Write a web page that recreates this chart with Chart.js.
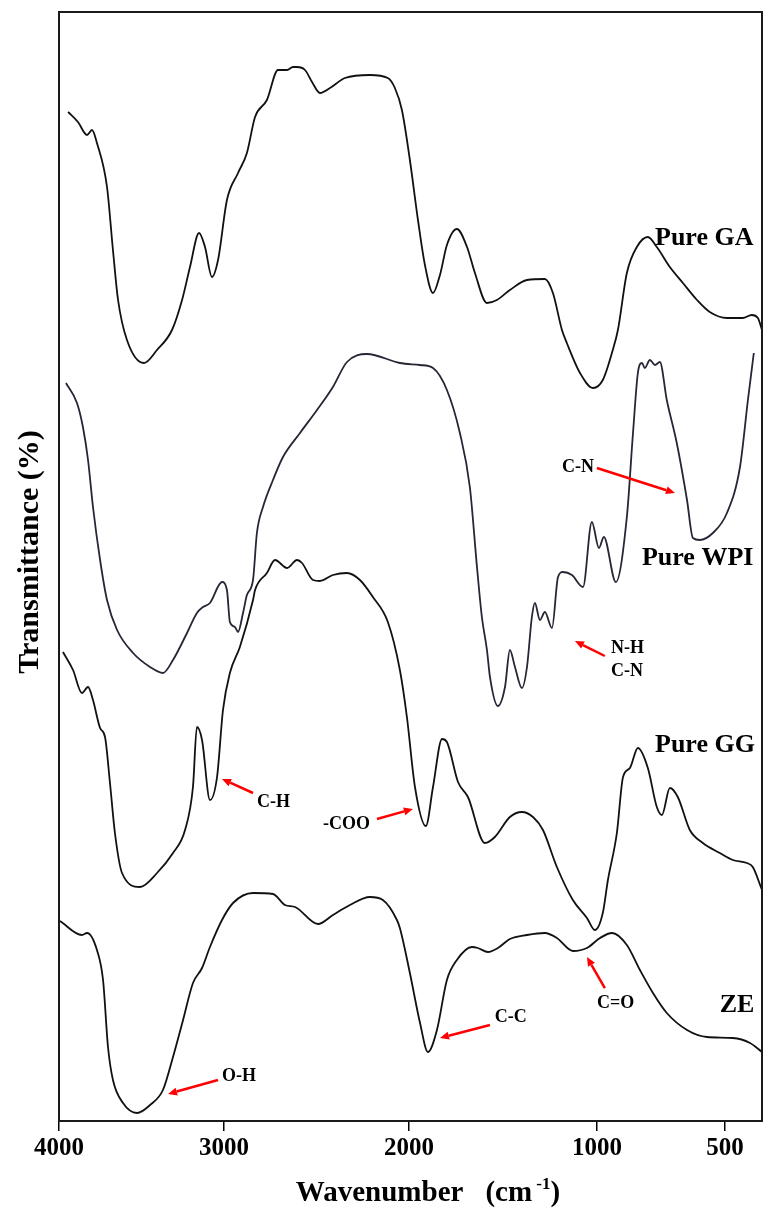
<!DOCTYPE html>
<html><head><meta charset="utf-8">
<script src="https://cdn.jsdelivr.net/npm/chart.js@4.4.1/dist/chart.umd.min.js"></script>
<style>html,body{margin:0;padding:0;background:#fff}canvas{display:block}</style>
</head><body>
<canvas id="c" width="764" height="1209"></canvas>
<script>
// ---- axis definition (spectrometer plot with changing wavenumber scale) ----
const TICK_WAVENUMBERS = [4000, 3000, 2000, 1000, 500];
const TICK_LABELS = ['4000', '3000', '2000', '1000', '500'];
const AXIS_BREAKS = [[4000, 0], [3000, 165], [2000, 350], [1000, 538], [500, 666], [0, 794]];
const X_START = 4000, X_END = 355;

// ---- spectra: [wavenumber (cm-1), transmittance (offset, a.u.)] ----
const GA = [[3945,100.9],[3885,99.9],[3830,98.6],[3800,99.1],[3770,97.8],[3709,93.4],[3673,87.1],[3642,82.1],[3588,78.1],[3485,75.8],[3406,77.1],[3315,79.1],[3254,82.1],[3206,85.4],[3151,88.8],[3115,87.4],[3073,84.4],[3036,86.1],[2984,92.1],[2924,94.8],[2876,96.8],[2832,100.4],[2768,102.1],[2708,105.1],[2659,105.1],[2627,105.4],[2605,105.4],[2562,105.1],[2524,103.9],[2481,102.8],[2427,103.3],[2346,104.3],[2211,104.6],[2114,104.3],[2076,103.3],[2038,101.1],[1995,96.1],[1952,90.1],[1915,85.6],[1872,82.8],[1835,84.6],[1798,87.6],[1745,89.2],[1691,87.4],[1649,84.8],[1585,81.8],[1532,82.1],[1463,83.1],[1372,84.1],[1277,84.2],[1234,82.8],[1186,79.1],[1160,77.8],[1090,74.8],[1021,73.3],[977,74.1],[938,77.1],[918,79.1],[883,84.8],[844,87.4],[801,88.4],[766,87.4],[715,85.4],[664,83.8],[609,82.1],[559,80.9],[492,80.3],[430,80.3],[395,80.6],[371,80.3],[355,79.1]];
const WPI = [[3958,73.8],[3891,71.8],[3855,69.4],[3824,66.1],[3794,61.4],[3751,56.1],[3709,52.1],[3648,49.1],[3551,46.8],[3448,45.4],[3370,44.8],[3309,46.1],[3224,48.8],[3164,50.8],[3127,51.4],[3085,51.8],[3012,53.9],[2984,53.1],[2968,49.9],[2941,49.4],[2924,48.9],[2897,50.8],[2876,52.6],[2843,54.1],[2822,58.8],[2789,61.4],[2735,64.1],[2681,66.4],[2589,68.8],[2497,71.1],[2411,73.4],[2335,75.9],[2227,76.7],[2049,75.8],[1941,75.6],[1872,75.3],[1798,73.1],[1729,68.8],[1676,63.4],[1638,55.4],[1612,50.4],[1585,47.1],[1569,44.4],[1527,41.5],[1489,43.4],[1463,47.1],[1436,45.4],[1399,43.3],[1372,45.4],[1346,50.4],[1330,51.8],[1303,50.1],[1277,50.9],[1239,49.3],[1207,54.4],[1181,54.9],[1133,54.6],[1074,53.4],[1027,59.9],[992,57.3],[973,58.4],[926,53.9],[883,60.4],[859,68.8],[840,74.8],[824,75.8],[813,75.3],[793,76.1],[773,75.6],[754,75.9],[727,72.1],[688,67.8],[648,62.1],[625,58.3],[598,58.1],[547,58.8],[492,60.8],[441,65.4],[410,72.1],[387,76.8]];
const GG = [[3976,46.9],[3915,45.1],[3861,42.8],[3824,43.4],[3794,42.1],[3751,39.3],[3721,38.4],[3691,33.8],[3661,28.8],[3618,24.8],[3509,23.4],[3406,24.8],[3309,26.8],[3236,29.1],[3188,33.4],[3164,39.4],[3133,38.1],[3085,32.1],[3042,34.4],[3006,41.1],[2968,44.8],[2914,47.4],[2843,52.1],[2832,53.1],[2768,54.8],[2724,56.1],[2659,55.3],[2605,56.1],[2578,55.8],[2519,54.1],[2481,54.0],[2411,54.6],[2335,54.8],[2265,54.1],[2195,52.4],[2114,49.9],[2049,45.1],[2011,40.4],[1968,33.4],[1910,29.5],[1872,33.4],[1824,38.2],[1798,37.9],[1739,33.9],[1686,32.4],[1596,27.8],[1543,28.4],[1463,30.4],[1399,30.9],[1340,30.4],[1287,29.1],[1213,25.4],[1128,22.1],[1053,20.3],[1011,19.1],[977,20.8],[957,24.1],[922,28.8],[898,34.4],[871,35.3],[840,37.3],[801,35.3],[766,31.4],[746,30.6],[715,33.3],[684,32.4],[637,29.1],[586,27.8],[520,26.8],[469,26.1],[414,25.8],[391,25.4],[355,23.1]];
const ZE = [[3994,20.0],[3861,18.6],[3830,18.8],[3770,17.1],[3733,14.1],[3703,7.4],[3673,4.1],[3612,1.8],[3527,0.8],[3448,1.6],[3370,3.1],[3309,6.4],[3248,10.1],[3188,13.8],[3133,15.3],[3085,17.4],[3012,20.1],[2951,21.8],[2843,22.8],[2735,22.7],[2670,21.6],[2616,21.4],[2492,19.7],[2411,20.6],[2319,21.6],[2211,22.4],[2141,22.1],[2065,20.1],[2049,19.3],[1995,14.8],[1941,9.8],[1899,6.9],[1851,9.1],[1798,14.1],[1745,16.1],[1665,17.4],[1633,17.3],[1580,16.9],[1527,17.3],[1463,18.2],[1372,18.6],[1277,18.8],[1213,18.3],[1128,17.0],[1053,17.3],[988,18.3],[941,18.8],[883,17.6],[832,15.1],[781,12.8],[727,10.8],[648,9.1],[570,8.4],[469,8.3],[402,7.8],[355,6.9]];

// ---- labels & arrows in data coordinates [wavenumber, transmittance] ----
const SERIES_LABELS = [['Pure GA',773,88.3],['Pure WPI',824,56.3],['Pure GG',773,37.6],['ZE',520,11.6]];
const BAND_LABELS = [['C-N',1186,65.4],['N-H',945,47.3],['C-N',945,45.0],['C-H',2822,31.9],['-COO',2465,29.7],['O-H',3012,4.5],['C-C',1543,10.4],['C=O',1000,11.8]];
const ARROWS = [[1000,65.3,695,62.8],[969,46.5,1117,48.0],[2843,32.8,3012,34.2],[2173,30.2,1979,31.2],[3036,4.1,3339,2.7],[1569,9.6,1835,8.3],[969,13.3,1053,16.4]];

function warp(wn){
  for(let i=0;i<AXIS_BREAKS.length-1;i++){
    const [w0,u0]=AXIS_BREAKS[i],[w1,u1]=AXIS_BREAKS[i+1];
    if(wn<=w0 && wn>=w1) return u0+(w0-wn)*(u1-u0)/(w0-w1);
  }
  return wn>AXIS_BREAKS[0][0]?AXIS_BREAKS[0][1]:AXIS_BREAKS[AXIS_BREAKS.length-1][1];
}
const toPts = arr => arr.map(([w,t])=>({x:warp(w),y:t}));
const SERIF = '"Liberation Serif","Times New Roman",serif';

const mkSet = (label,arr,color)=>({label,data:toPts(arr),borderColor:color,borderWidth:1.8,pointRadius:0,fill:false,cubicInterpolationMode:'monotone'});

const overlay = {
  id:'overlay',
  afterDatasetsDraw(chart){
    const {ctx, chartArea:a, scales:{x,y}} = chart;
    const px = w => x.getPixelForValue(warp(w));
    const py = t => y.getPixelForValue(t);
    ctx.save();
    // frame
    ctx.strokeStyle='#1a1a1a'; ctx.lineWidth=2;
    ctx.strokeRect(a.left, a.top, a.right-a.left, a.bottom-a.top);
    // arrows
    ctx.strokeStyle='#f00'; ctx.fillStyle='#f00'; ctx.lineWidth=2.5;
    ARROWS.forEach(([w0,t0,w1,t1])=>{
      const x0=px(w0),y0=py(t0),x1=px(w1),y1=py(t1);
      const ang=Math.atan2(y1-y0,x1-x0), L=9, W=4;
      const bx=x1-L*Math.cos(ang), by=y1-L*Math.sin(ang);
      ctx.beginPath(); ctx.moveTo(x0,y0); ctx.lineTo(bx,by); ctx.stroke();
      ctx.beginPath(); ctx.moveTo(x1,y1);
      ctx.lineTo(bx+W*Math.sin(ang), by-W*Math.cos(ang));
      ctx.lineTo(bx-W*Math.sin(ang), by+W*Math.cos(ang));
      ctx.closePath(); ctx.fill();
    });
    // labels
    ctx.fillStyle='#000'; ctx.textAlign='left'; ctx.textBaseline='middle';
    ctx.font='bold 26px '+SERIF;
    SERIES_LABELS.forEach(([s,w,t])=>ctx.fillText(s,px(w),py(t)));
    ctx.font='bold 18px '+SERIF;
    BAND_LABELS.forEach(([s,w,t])=>ctx.fillText(s,px(w),py(t)));
    // x title with superscript
    const big='bold 29px '+SERIF, small='bold 17px '+SERIF;
    ctx.textBaseline='alphabetic';
    ctx.font=big; const w1=ctx.measureText('Wavenumber').width, w2=ctx.measureText('(cm').width, w4=ctx.measureText(')').width;
    ctx.font=small; const w3=ctx.measureText(' -1').width;
    const gap=22, total=w1+gap+w2+w3+w4;
    let cx=a.left+369-total/2; const base=a.bottom+80;
    ctx.font=big; ctx.fillText('Wavenumber',cx,base); cx+=w1+gap;
    ctx.fillText('(cm',cx,base); cx+=w2;
    ctx.font=small; ctx.fillText(' -1',cx,base-12); cx+=w3;
    ctx.font=big; ctx.fillText(')',cx,base);
    // y title
    ctx.translate(a.left-21, a.top+540); ctx.rotate(-Math.PI/2);
    ctx.font='bold 30px '+SERIF; ctx.textAlign='center'; ctx.textBaseline='alphabetic';
    ctx.fillText('Transmittance (%)',0,0);
    ctx.restore();
  }
};

new Chart(document.getElementById('c'),{
  type:'line',
  data:{datasets:[
    mkSet('Pure GA',GA,'#111'),
    mkSet('Pure WPI',WPI,'#262635'),
    mkSet('Pure GG',GG,'#111'),
    mkSet('ZE',ZE,'#111')
  ]},
  options:{
    responsive:false, animation:false, devicePixelRatio:1,
    parsing:true,
    layout:{padding:{top:12,right:2,left:0,bottom:0}},
    plugins:{legend:{display:false},tooltip:{enabled:false}},
    scales:{
      x:{type:'linear',min:warp(X_START),max:warp(X_END),
        afterFit(s){s.height=88;},
        afterBuildTicks(s){s.ticks=TICK_WAVENUMBERS.map(w=>({value:warp(w)}));},
        ticks:{autoSkip:false,maxRotation:0,padding:3,color:'#000',
          font:{family:SERIF,size:25,weight:'bold'},
          callback(v){const i=TICK_WAVENUMBERS.findIndex(w=>Math.abs(warp(w)-v)<0.01);return i>=0?TICK_LABELS[i]:'';}},
        grid:{display:true,drawOnChartArea:false,drawTicks:true,tickLength:10,color:'#000',lineWidth:1.5},
        border:{display:false}
      },
      y:{type:'linear',min:0,max:110.9,
        afterFit(s){s.width=59;},
        ticks:{display:false},grid:{display:false},border:{display:false}
      }
    }
  },
  plugins:[overlay]
});
</script>
</body></html>
